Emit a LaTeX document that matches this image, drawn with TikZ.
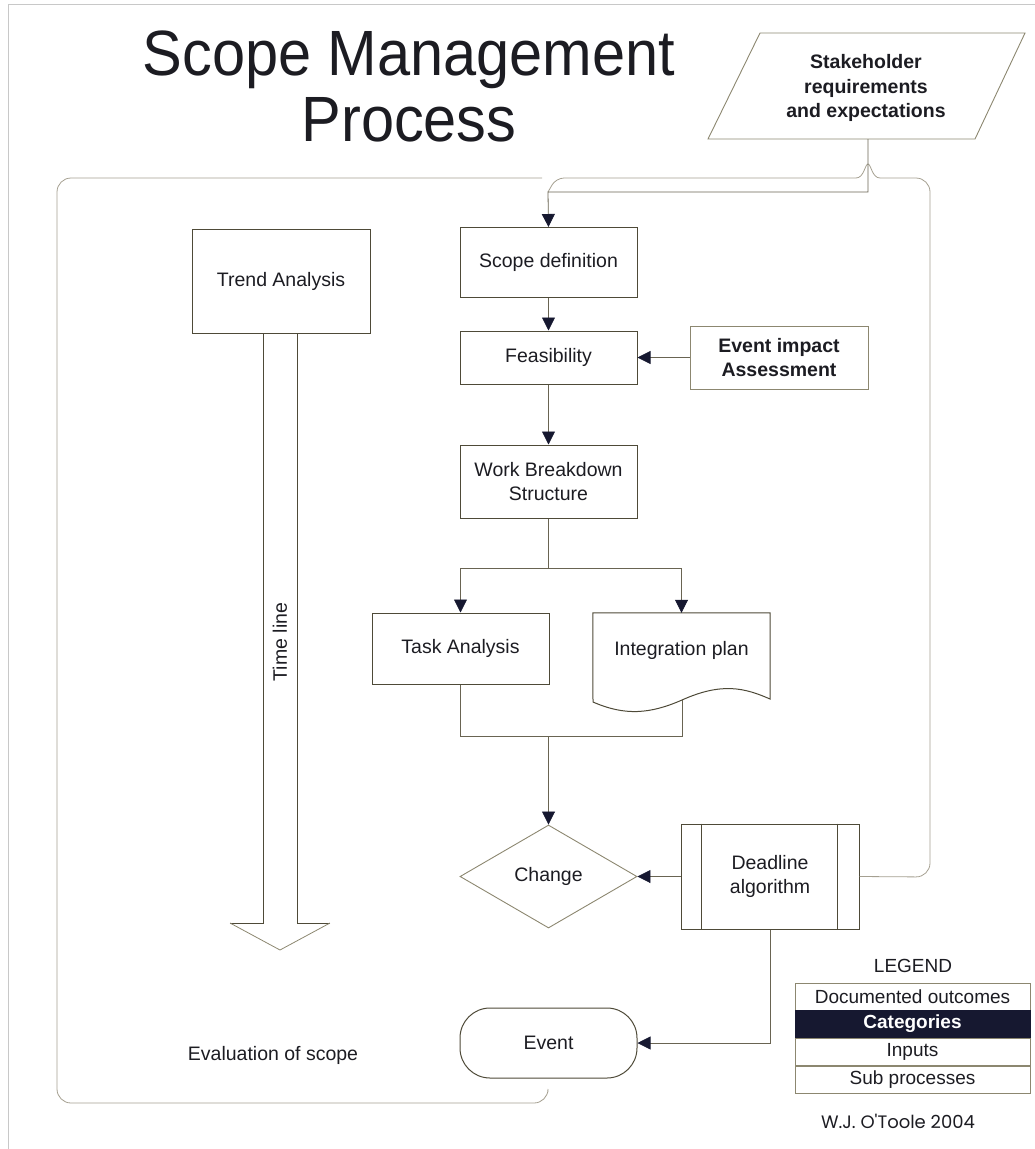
\documentclass[tikz,border=0pt]{standalone}
\usepackage{fontspec}
\setmainfont{Liberation Sans}
\newfontfamily\sigfont{Poppins}
\usetikzlibrary{arrows.meta,shapes.geometric,calc}

\definecolor{ink}{RGB}{28,28,34}
\definecolor{boxc}{RGB}{78,74,56}
\definecolor{softc}{RGB}{140,135,112}
\definecolor{linec}{RGB}{105,100,82}
\definecolor{framec}{RGB}{165,160,145}
\definecolor{navy}{RGB}{22,24,48}
\definecolor{pagec}{RGB}{200,200,200}

\newcommand{\bodyfont}{\fontsize{19.5}{24.5}\selectfont}
\newcommand{\boldfont}{\fontsize{19.5}{23.5}\selectfont\bfseries}

\tikzset{
  box/.style={draw=boxc, line width=1pt, rectangle, inner sep=0pt,
              align=center, font=\bodyfont, text=ink},
  softbox/.style={box, draw=softc},
  conn/.style={draw=linec, line width=0.8pt},
  arr/.style={conn, -{Triangle[length=13pt,width=13pt,color=navy]}},
  frameline/.style={draw=framec, line width=0.8pt, rounded corners=14pt},
  legrow/.style={draw=softc, line width=0.8pt, rectangle, inner sep=0pt,
                 minimum width=235pt, minimum height=27pt,
                 font=\fontsize{19}{22}\selectfont, text=ink},
}

\begin{document}
\begin{tikzpicture}[x=1pt,y=-1pt]
\useasboundingbox (0,0) rectangle (1035,1149);

% page edges
\draw[pagec, line width=0.6pt] (8,1149) -- (8,4) -- (1035,4);

% title
\node[anchor=base, text=ink, font=\fontsize{64}{70}\selectfont] (title1) at (409,75)
  {\scalebox{0.93}[1]{Scope Management}};
\node[anchor=base, text=ink, font=\fontsize{64}{70}\selectfont] (title2) at (409,141)
  {\scalebox{0.93}[1]{Process}};

% stakeholder input (parallelogram)
\draw[softc, line width=0.9pt] (760,33) -- (1025,33) -- (975,139) -- (708,139) -- cycle;
\node[align=center, font=\fontsize{19.5}{24.5}\selectfont\bfseries, text=ink] (stake) at (866,88)
  {Stakeholder\\requirements\\and expectations};
\coordinate (stkb) at (868,139);

% main flow boxes
\node[box, minimum width=177pt, minimum height=70pt] (scope) at (548.5,262.5) {Scope definition};
\node[box, minimum width=177pt, minimum height=53pt] (feas) at (548.5,357.5) {Feasibility};
\node[softbox, minimum width=178pt, minimum height=63pt, font=\boldfont] (eia) at (779,357.5)
  {Event impact\\Assessment};
\node[box, minimum width=177pt, minimum height=73pt] (wbs) at (548.5,481.5)
  {Work Breakdown\\Structure};
\node[box, minimum width=177pt, minimum height=71pt] (task) at (460.5,648.5) {Task Analysis};

% integration plan (document shape)
\node[rectangle, inner sep=0pt, minimum width=177pt, minimum height=87pt] (integ) at (681.5,656.5) {};
\node[font=\bodyfont, text=ink] (integt) at (681.5,650) {Integration plan};
\draw[boxc, line width=1pt] (integ.north west) -- (integ.north east) -- (770,699)
  .. controls (745,688) and (722,682) .. (682,700)
  .. controls (650,714) and (625,716) .. (593,702) -- cycle;

% decision and sub-process
\node[draw=softc, line width=0.9pt, diamond, inner sep=0pt, minimum width=177pt,
      minimum height=103pt, font=\bodyfont, text=ink] (change) at (548.5,876.5) {Change};
\node[box, minimum width=178pt, minimum height=105pt] (deadline) at (770,876.5)
  {Deadline\\algorithm};
\draw[boxc, line width=0.8pt]
  ($(deadline.north west)+(21,0)$) -- ($(deadline.south west)+(21,0)$)
  ($(deadline.north east)+(-22,0)$) -- ($(deadline.south east)+(-22,0)$);

% terminator
\node[draw=boxc, line width=1pt, rectangle, rounded corners=30pt, inner sep=0pt,
      minimum width=177pt, minimum height=70pt, font=\bodyfont, text=ink] (event) at (548.5,1043) {Event};

% evaluation panel
\node[box, minimum width=178pt, minimum height=104pt] (trend) at (281,281) {Trend Analysis};
\draw[boxc, line width=1pt] (263,333) -- (263,923) -- (230,923);
\draw[boxc, line width=1pt] (297,333) -- (297,923) -- (330,923);
\draw[softc, line width=0.8pt] (230,923) -- (280,950) -- (330,923);
\node[rotate=90, font=\bodyfont, text=ink] (timeline) at (280,642) {Time line};
\node[font=\bodyfont, text=ink] (evalsc) at (273,1055) {Evaluation of scope};

% frame around the evaluation panel and the feedback loop
\coordinate (jn) at (548,192);
\coordinate (fbA) at (930,877);
\coordinate (fbB) at (930,178);
\coordinate (brR) at (880,178);
\coordinate (brL) at (856,178);
\draw[frameline] (542,178) -- (57,178) -- (57,1103) -- (548,1103) -- (548,1092);
\draw[frameline] (deadline.east) -- (fbA) -- (fbB) -- (brR);
\draw[draw=framec, line width=0.8pt] (brR) .. controls (872,178) and (871,164) .. (868,164)
  .. controls (865,164) and (864,178) .. (brL);
\draw[frameline, rounded corners=8pt] (brL) -- (556,178) -- (jn);

% connectors
\draw[arr] (stkb) |- (jn) -- (scope.north);
\draw[arr] (scope.south) -- (feas.north);
\draw[arr] (eia.west) -- (feas.east);
\draw[arr] (feas.south) -- (wbs.north);
\coordinate (fork) at (548.5,568);
\draw[conn] (wbs.south) -- (fork);
\draw[arr] (fork) -| (task.north);
\draw[arr] (fork) -| (integ.north);
\coordinate (merge) at (548.5,736);
\coordinate (mergeR) at (682,736);
\draw[conn] (task.south) |- (mergeR) -- (682,700);
\draw[arr] (merge) -- (change.north);
\draw[arr] (deadline.west) -- (change.east);
\draw[arr] (deadline.south) |- (event.east);

% legend
\node[font=\fontsize{19}{22}\selectfont, text=ink] (legtitle) at (913,966) {LEGEND};
\node[legrow] (leg1) at (912.5,996.5) {Documented outcomes};
\node[legrow, fill=navy, draw=navy, text=white, font=\fontsize{19}{22}\selectfont\bfseries] (leg2) at (912.5,1023.5) {Categories};
\node[legrow] (leg3) at (912.5,1051.5) {Inputs};
\node[legrow] (leg4) at (912.5,1079.5) {Sub processes};
\node[font=\sigfont\fontsize{18}{20}\selectfont, text=ink] (sig) at (898,1121) {W.J. O'Toole 2004};
\end{tikzpicture}
\end{document}
